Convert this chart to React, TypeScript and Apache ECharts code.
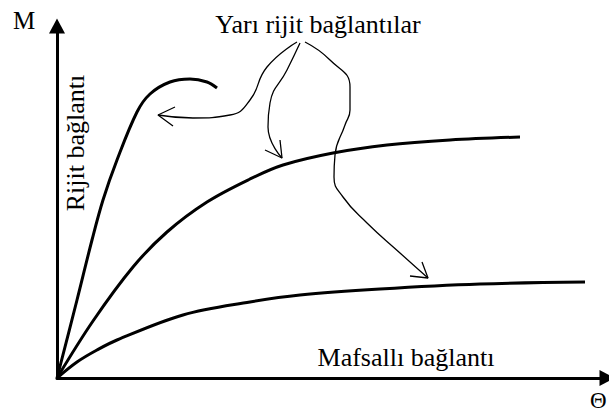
import React, { useEffect, useRef } from "react";
import * as echarts from "echarts";

// Coordinates are in arbitrary chart units (rotation θ on x, moment M on y)
const rigidCurve: [number, number][] = [
  [0, 0], [20, 78], [35, 138], [46, 178], [60, 218], [80, 266], [93, 284],
  [113, 296], [133, 299], [150, 296], [160, 290],
];
const semiRigidCurve: [number, number][] = [
  [0, 0], [36, 57], [76, 111], [110, 146], [150, 176], [193, 199], [226, 213],
  [276, 225], [330, 233], [393, 238], [463, 241],
];
const pinnedCurve: [number, number][] = [
  [0, 0], [20, 16], [40, 28], [60, 38], [126, 63], [193, 76], [243, 83],
  [323, 89], [423, 94], [528, 96],
];
const pointer1: [number, number][] = [
  [240, 336], [210, 311], [193, 278], [173, 263], [136, 260], [101, 263],
];
const pointer1Head: [number, number][] = [[118, 271], [101, 263], [116, 252]];
const pointer2: [number, number][] = [
  [243, 335], [230, 308], [213, 275], [211, 251], [225, 220],
];
const pointer2Head: [number, number][] = [[208, 228], [225, 220], [223, 238]];
const pointer3: [number, number][] = [
  [248, 336], [273, 318], [293, 291], [293, 268], [288, 253], [278, 223],
  [277, 201], [286, 181], [310, 155], [343, 125], [371, 100],
];
const pointer3Head: [number, number][] = [[353, 102], [371, 100], [365, 116]];

const labels = {
  yName: "M",
  xName: "Θ",
  semi: "Yarı rijit bağlantılar",
  rigid: "Rijit bağlantı",
  pinned: "Mafsallı bağlantı",
};

const FONT = "Liberation Serif";

export default function App() {
  const ref = useRef<HTMLDivElement>(null);
  useEffect(() => {
    if (!ref.current) return;
    const chart = echarts.init(ref.current, null, { renderer: "svg" });
    const thick = (data: [number, number][]) => ({
      type: "line",
      data,
      smooth: 0.35,
      showSymbol: false,
      symbol: "none",
      lineStyle: { color: "#000", width: 3 },
      silent: true,
    });
    const thin = (data: [number, number][], smooth: number | boolean) => ({
      type: "line",
      data,
      smooth,
      showSymbol: false,
      symbol: "none",
      lineStyle: { color: "#000", width: 1.3 },
      silent: true,
    });
    const txt = (text: string, x: number, y: number, size: number, align: string, rotation = 0) => ({
      type: "text",
      x,
      y,
      rotation,
      style: {
        text,
        fontFamily: FONT,
        fontSize: size,
        fill: "#000",
        textAlign: align,
        textVerticalAlign: "middle",
      },
    });
    chart.setOption({
      animation: false,
      backgroundColor: "#fff",
      textStyle: { fontFamily: FONT },
      grid: { left: 57, right: 2, top: 26, bottom: 41 },
      xAxis: {
        type: "value",
        min: 0,
        max: 550,
        axisLine: {
          show: true,
          symbol: ["none", "triangle"],
          symbolSize: [16, 15],
          lineStyle: { color: "#000", width: 3 },
        },
        axisTick: { show: false },
        axisLabel: { show: false },
        splitLine: { show: false },
      },
      yAxis: {
        type: "value",
        min: 0,
        max: 352,
        axisLine: {
          show: true,
          symbol: ["none", "triangle"],
          symbolSize: [16, 15],
          lineStyle: { color: "#000", width: 3 },
        },
        axisTick: { show: false },
        axisLabel: { show: false },
        splitLine: { show: false },
      },
      series: [
        thick(rigidCurve),
        thick(semiRigidCurve),
        thick(pinnedCurve),
        thin(pointer1, 0.5),
        thin(pointer1Head, false),
        thin(pointer2, 0.5),
        thin(pointer2Head, false),
        thin(pointer3, 0.5),
        thin(pointer3Head, false),
      ],
      graphic: [
        txt(labels.yName, 24, 20, 25, "center"),
        txt(labels.semi, 318, 24, 26, "center"),
        txt(labels.rigid, 75, 143, 26, "center", Math.PI / 2),
        txt(labels.pinned, 406, 357, 26, "center"),
        txt(labels.xName, 590, 400, 23, "left"),
      ],
    });
    return () => chart.dispose();
  }, []);
  return <div ref={ref} style={{ width: 609, height: 419, position: "fixed", left: 0, top: 0 }} />;
}
